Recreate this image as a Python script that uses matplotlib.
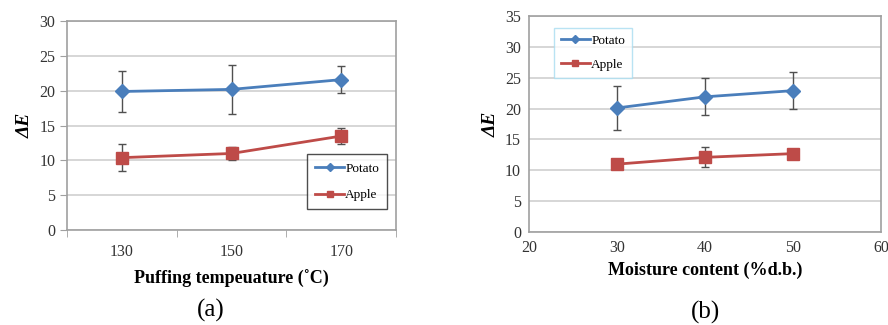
import numpy as np
import matplotlib
matplotlib.use("Agg")
import matplotlib.pyplot as plt
from matplotlib.ticker import FixedLocator
from matplotlib.lines import Line2D

plt.rcParams['font.family'] = ['Liberation Serif', 'DejaVu Serif']

# (a) puffing temperature
temp_labels = ['130', '150', '170']
potato_a = [19.9, 20.2, 21.6]
potato_a_err = [2.9, 3.5, 1.9]
apple_a = [10.4, 11.0, 13.5]
apple_a_err = [1.9, 0.9, 1.1]

# (b) moisture content
moisture = [30, 40, 50]
potato_b = [20.1, 21.9, 22.9]
potato_b_err = [3.5, 3.0, 3.0]
apple_b = [11.0, 12.1, 12.7]
apple_b_err = [0.8, 1.6, 0.5]

blue = '#4a7ebb'
red = '#be4b48'
grid_c = '#d0d0d0'
frame_c = '#a0a0a0'

fig = plt.figure(figsize=(8.88, 3.25), dpi=100)
ax1 = fig.add_axes([0.0755, 0.292, 0.3705, 0.643])
ax2 = fig.add_axes([0.596, 0.286, 0.396, 0.665])


def draw(ax, x, pot, pot_e, app, app_e):
    ax.errorbar(x, pot, yerr=pot_e, color=blue, ecolor='#505050', elinewidth=1,
                capsize=3, capthick=1, lw=2, marker='D', ms=7, zorder=3)
    ax.errorbar(x, app, yerr=app_e, color=red, ecolor='#505050', elinewidth=1,
                capsize=3, capthick=1, lw=2, marker='s', ms=8, zorder=3)
    ax.yaxis.grid(True, color=grid_c, lw=1.2)
    ax.set_axisbelow(True)
    for s in ax.spines.values():
        s.set_color(frame_c)
        s.set_linewidth(1.2)
    ax.tick_params(labelsize=11.5, colors='#333333')


handles = [Line2D([], [], color=blue, lw=2, marker='D', ms=4.5, label='Potato'),
           Line2D([], [], color=red, lw=2, marker='s', ms=5, label='Apple')]

x = np.arange(1, len(temp_labels) + 1)
draw(ax1, x, potato_a, potato_a_err, apple_a, apple_a_err)
ax1.set_xlim(0.5, 3.5)
ax1.set_ylim(0, 30)
ax1.set_yticks(range(0, 31, 5))
ax1.set_xticks(x)
ax1.set_xticklabels(temp_labels)
ax1.xaxis.set_minor_locator(FixedLocator([0.5, 1.5, 2.5, 3.5]))
ax1.tick_params(axis='x', which='major', length=0, pad=10)
ax1.tick_params(axis='x', which='minor', length=5, color=frame_c)
ax1.tick_params(axis='y', length=5, color=frame_c)
ax1.set_xlabel('Puffing tempeuature (˚C)', fontsize=13, fontweight='bold', labelpad=7)
ax1.set_ylabel('ΔE', fontsize=14, fontweight='bold', style='italic', labelpad=4)
leg1 = ax1.legend(handles=handles, loc='lower right', bbox_to_anchor=(0.973, 0.1),
                  fontsize=9.5, frameon=True, fancybox=False, handlelength=2.2,
                  labelspacing=1.1, borderpad=0.6, handletextpad=0.1,
                  borderaxespad=0)
leg1.get_frame().set_edgecolor('#222222')
leg1.get_frame().set_linewidth(1)

draw(ax2, moisture, potato_b, potato_b_err, apple_b, apple_b_err)
ax2.set_xlim(20, 60)
ax2.set_ylim(0, 35)
ax2.set_xticks(range(20, 61, 10))
ax2.set_yticks(range(0, 36, 5))
ax2.tick_params(axis='both', length=0, pad=6)
ax2.set_xlabel('Moisture content (%d.b.)', fontsize=13, fontweight='bold', labelpad=4)
ax2.set_ylabel('ΔE', fontsize=14, fontweight='bold', style='italic', labelpad=4)
leg2 = ax2.legend(handles=handles, loc='upper left', bbox_to_anchor=(0.071, 0.944),
                  fontsize=9.5, frameon=True, fancybox=False, handlelength=2.2,
                  labelspacing=0.9, borderpad=0.5, handletextpad=0.1,
                  borderaxespad=0)
leg2.get_frame().set_edgecolor('#a8dcf0')
leg2.get_frame().set_linewidth(1)

fig.text(0.237, 0.046, '(a)', fontsize=18, ha='center', va='center')
fig.text(0.795, 0.038, '(b)', fontsize=18, ha='center', va='center')

fig.savefig('out.png', dpi=100)
